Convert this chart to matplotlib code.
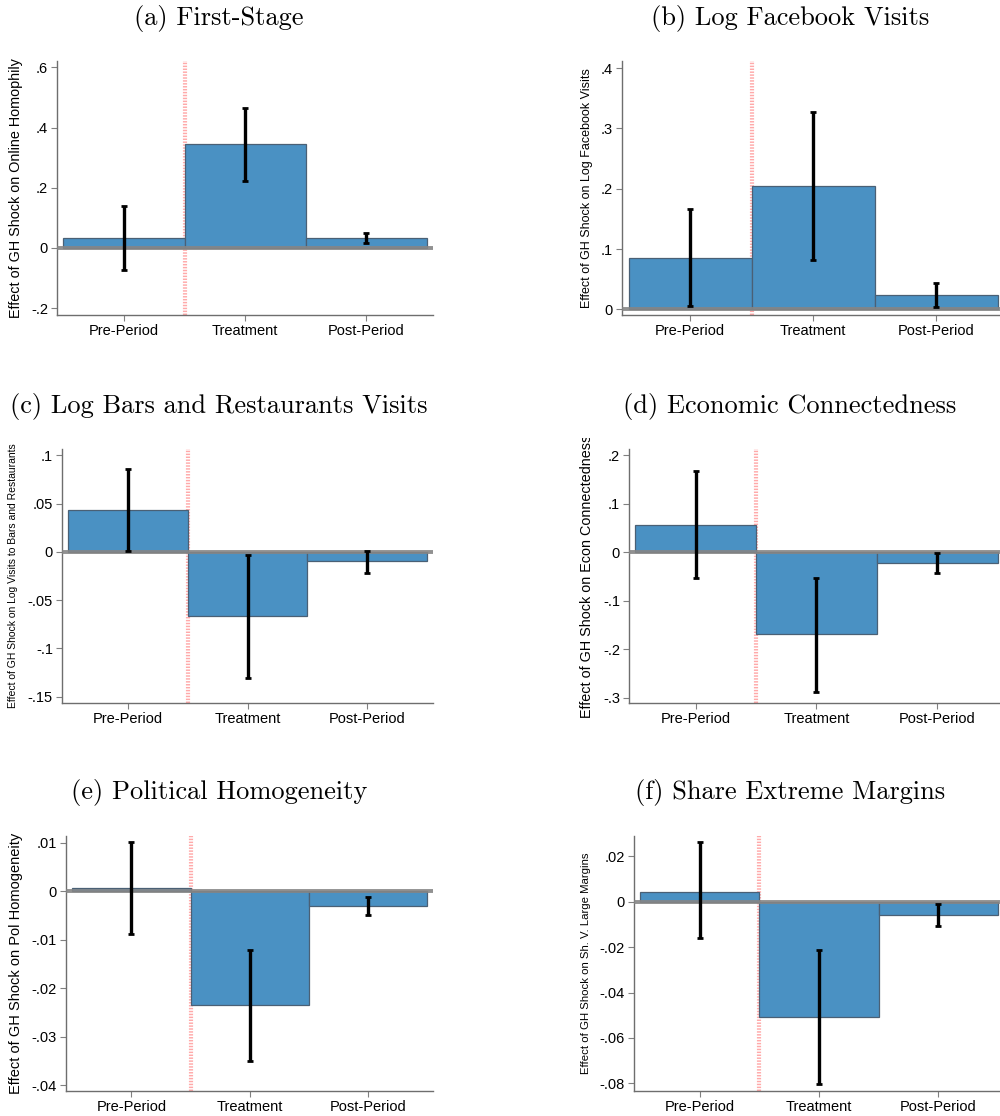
import numpy as np
import matplotlib
matplotlib.use("Agg")
import matplotlib.pyplot as plt
from matplotlib.transforms import Bbox

plt.rcParams['font.family'] = ['Liberation Sans', 'DejaVu Sans']

# 数据
periods = ["Pre-Period", "Treatment", "Post-Period"]

coef_a = [0.033, 0.344, 0.033]
lo_a = [-0.073, 0.222, 0.016]
hi_a = [0.140, 0.466, 0.050]

coef_b = [0.085, 0.204, 0.023]
lo_b = [0.006, 0.082, 0.003]
hi_b = [0.166, 0.327, 0.044]

coef_c = [0.043, -0.067, -0.010]
lo_c = [0.001, -0.131, -0.022]
hi_c = [0.086, -0.003, 0.001]

coef_d = [0.056, -0.169, -0.021]
lo_d = [-0.052, -0.288, -0.042]
hi_d = [0.167, -0.052, -0.002]

coef_e = [0.0006, -0.0235, -0.0030]
lo_e = [-0.0089, -0.0350, -0.0048]
hi_e = [0.0102, -0.0122, -0.0012]

coef_f = [0.0045, -0.0507, -0.0057]
lo_f = [-0.0158, -0.0802, -0.0107]
hi_f = [0.0264, -0.0213, -0.0011]

ticks_a = [-0.2, 0, 0.2, 0.4, 0.6]
tlab_a = ["-.2", "0", ".2", ".4", ".6"]
ticks_b = [0, 0.1, 0.2, 0.3, 0.4]
tlab_b = ["0", ".1", ".2", ".3", ".4"]
ticks_c = [-0.15, -0.1, -0.05, 0, 0.05, 0.1]
tlab_c = ["-.15", "-.1", "-.05", "0", ".05", ".1"]
ticks_d = [-0.3, -0.2, -0.1, 0, 0.1, 0.2]
tlab_d = ["-.3", "-.2", "-.1", "0", ".1", ".2"]
ticks_e = [-0.04, -0.03, -0.02, -0.01, 0, 0.01]
tlab_e = ["-.04", "-.03", "-.02", "-.01", "0", ".01"]
ticks_f = [-0.08, -0.06, -0.04, -0.02, 0, 0.02]
tlab_f = ["-.08", "-.06", "-.04", "-.02", "0", ".02"]

titles = ["(a) First-Stage", "(b) Log Facebook Visits",
          "(c) Log Bars and Restaurants Visits", "(d) Economic Connectedness",
          "(e) Political Homogeneity", "(f) Share Extreme Margins"]
ylabels = ["Effect of GH Shock on Online Homophily",
           "Effect of GH Shock on Log Facebook Visits",
           "Effect of GH Shock on Log Visits to Bars and Restaurants",
           "Effect of GH Shock on Econ Connectedness",
           "Effect of GH Shock on Pol Homogeneity",
           "Effect of GH Shock on Sh. V. Large Margins"]

W, H = 1000, 1116
fig = plt.figure(figsize=(W / 100, H / 100), dpi=100)

# 每个面板的像素位置: left, right, top, bottom, ylim, 标签字号, 标签x, 标题位置
panels = [
    dict(c=coef_a, lo=lo_a, hi=hi_a, t=ticks_a, tl=tlab_a, box=(57, 433, 61, 315),
         ylim=(-0.2226, 0.621), xr=3.55, ls=10.4, lx=16, tx=219, ty=18.5),
    dict(c=coef_b, lo=lo_b, hi=hi_b, t=ticks_b, tl=tlab_b, box=(622, 1000, 61, 315),
         ylim=(-0.0095, 0.412), xr=3.52, ls=9.0, lx=587, tx=790, ty=18.5),
    dict(c=coef_c, lo=lo_c, hi=hi_c, t=ticks_c, tl=tlab_c, box=(62, 433, 449, 703),
         ylim=(-0.1566, 0.1065), xr=3.55, ls=7.5, lx=13, tx=219, ty=406),
    dict(c=coef_d, lo=lo_d, hi=hi_d, t=ticks_d, tl=tlab_d, box=(629, 1000, 449, 703),
         ylim=(-0.3107, 0.2134), xr=3.52, ls=10.4, lx=587, tx=790, ty=406),
    dict(c=coef_e, lo=lo_e, hi=hi_e, t=ticks_e, tl=tlab_e, box=(66, 433, 836, 1091),
         ylim=(-0.0412, 0.0114), xr=3.55, ls=10.5, lx=16, tx=219, ty=793),
    dict(c=coef_f, lo=lo_f, hi=hi_f, t=ticks_f, tl=tlab_f, box=(634, 1000, 836, 1091),
         ylim=(-0.0834, 0.029), xr=3.52, ls=8.2, lx=586, tx=790, ty=793),
]

bar_color = '#4a91c3'
edge_color = '#4a6075'
x = np.arange(1, 4)

for i, p in enumerate(panels):
    l, r, t, b = p['box']
    ax = fig.add_axes([l / W, 1 - b / H, (r - l) / W, (b - t) / H])
    coef = np.array(p['c'])
    err = [coef - np.array(p['lo']), np.array(p['hi']) - coef]

    ax.axvline(1.5, color='#ffaaaa', linewidth=3.0, linestyle=(0, (0.35, 0.35)), zorder=1)
    ax.bar(x, coef, width=1.0, color=bar_color, edgecolor=edge_color, linewidth=0.9, zorder=2)
    ax.axhline(0, color='#858585', linewidth=2.8, alpha=0.9, zorder=3)
    ax.errorbar(x, coef, yerr=err, fmt='none', ecolor='black', elinewidth=2.4,
                capsize=2.5, capthick=2.0, zorder=4)

    ax.set_xlim(0.447, p['xr'])
    ax.set_ylim(*p['ylim'])
    ax.set_xticks(x)
    ax.set_xticklabels(periods, fontsize=10.5)
    ax.set_yticks(p['t'])
    ax.set_yticklabels(p['tl'], fontsize=10.5)
    ax.tick_params(direction='out', length=4, width=0.8, color='#808080', pad=2.5)
    for s in ['top', 'right']:
        ax.spines[s].set_visible(False)
    for s in ['left', 'bottom']:
        ax.spines[s].set_color('#6e6e6e')
        ax.spines[s].set_linewidth(1.0)

    fig.text(p['tx'] / W, 1 - p['ty'] / H, titles[i], fontsize=19,
             family='cmr10', ha='center', va='center')
    yc = (t + b) / 2
    lab = fig.text(p['lx'] / W, 1 - yc / H, ylabels[i], fontsize=p['ls'],
                   rotation=90, ha='center', va='center')
    if i == 3:
        # 原图中该标签顶部被截断
        clip = Bbox.from_extents(0, 0, W, H - 438)
        lab.set_clip_box(clip)
        lab.set_clip_on(True)

fig.savefig('out.png', dpi=100)
